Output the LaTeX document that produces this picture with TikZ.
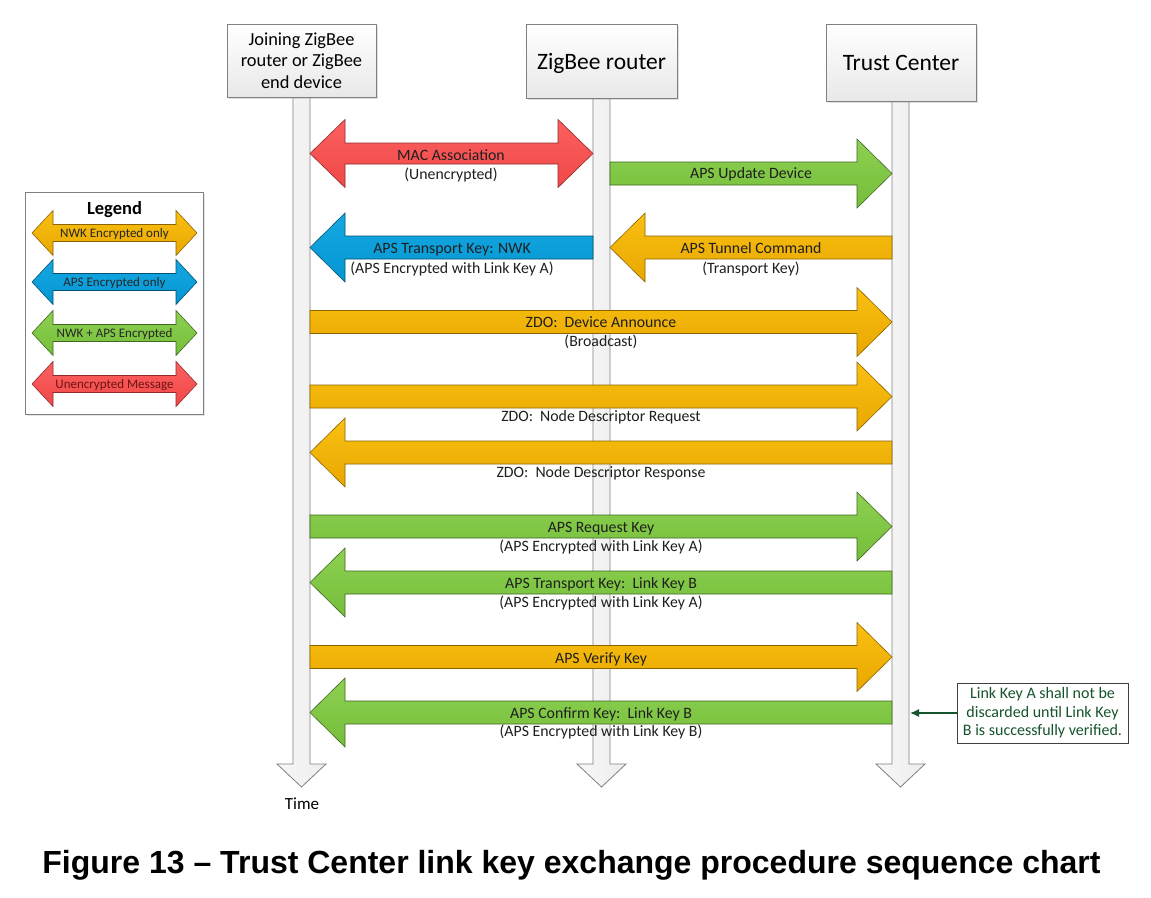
\documentclass[tikz,border=0pt]{standalone}
\usepackage{fontspec}
\setmainfont{Carlito}
\newfontfamily\titlefont{Liberation Sans}
\usetikzlibrary{shadows,arrows.meta}
\definecolor{orT}{RGB}{250,192,18}
\definecolor{orB}{RGB}{232,167,0}
\definecolor{grT}{RGB}{142,208,82}
\definecolor{grB}{RGB}{116,190,58}
\definecolor{blT}{RGB}{20,168,226}
\definecolor{blB}{RGB}{5,150,210}
\definecolor{rdT}{RGB}{252,96,96}
\definecolor{rdB}{RGB}{240,72,72}
\definecolor{notegreen}{RGB}{22,84,44}
\definecolor{darkred}{RGB}{110,20,20}
\newcommand\RArr[4]{% style, x start, x tip, y centre
  \path[#1] (#2,#4-11.5) -- (#3-35,#4-11.5) -- (#3-35,#4-34.5) -- (#3,#4)
    -- (#3-35,#4+34.5) -- (#3-35,#4+11.5) -- (#2,#4+11.5) -- cycle;}
\newcommand\LArr[4]{% style, x tip, x end, y centre
  \path[#1] (#3,#4-11.5) -- (#2+35,#4-11.5) -- (#2+35,#4-34.5) -- (#2,#4)
    -- (#2+35,#4+34.5) -- (#2+35,#4+11.5) -- (#3,#4+11.5) -- cycle;}
\newcommand\DArr[7]{% style, x1, x2, y, body half, head half, head length
  \path[#1] (#2,#4) -- (#2+#7,#4-#6) -- (#2+#7,#4-#5) -- (#3-#7,#4-#5)
    -- (#3-#7,#4-#6) -- (#3,#4) -- (#3-#7,#4+#6) -- (#3-#7,#4+#5)
    -- (#2+#7,#4+#5) -- (#2+#7,#4+#6) -- cycle;}
\newcommand\Life[2]{% x centre, y top
  \path[life] (#1-8.5,#2) -- (#1-8.5,764) -- (#1-24.5,764) -- (#1,787)
    -- (#1+24.5,764) -- (#1+8.5,764) -- (#1+8.5,#2) -- cycle;}
\tikzset{
  oarr/.style={draw=orB!60!black, line width=0.6, top color=orT, bottom color=orB},
  garr/.style={draw=grB!55!black, line width=0.6, top color=grT, bottom color=grB},
  barr/.style={draw=blB!55!black, line width=0.6, top color=blT, bottom color=blB},
  rarr/.style={draw=rdB!60!black, line width=0.6, top color=rdT, bottom color=rdB},
  life/.style={draw=black!50, line width=0.8, left color=black!3, right color=black!7},
  hdr/.style={draw=black!50, line width=0.8, top color=white, bottom color=black!9,
    align=center, inner sep=2pt,
    drop shadow={shadow xshift=2pt, shadow yshift=-2pt, opacity=0.25}},
  lbl/.style={font=\fontsize{15.8}{19}\selectfont, inner sep=0pt, anchor=base, text=black!88},
  leg/.style={font=\fontsize{13}{15}\selectfont, inner sep=0pt, anchor=base, text=black!85},
}
\begin{document}
\begin{tikzpicture}[x=1pt, y=-1pt]
\useasboundingbox (0,0) rectangle (1151,897);
\fill[white] (0,0) rectangle (1151,897);

% lifelines
\Life{301.5}{90}
\Life{601.5}{90}
\Life{900.5}{90}

% headers
\node[hdr, minimum width=149pt, minimum height=73pt, font=\fontsize{18.4}{21.5}\selectfont]
  (J) at (301.5,60.5) {Joining ZigBee\\router or ZigBee\\end device};
\node[hdr, minimum width=151pt, minimum height=74pt, text depth=0pt, font=\fontsize{23.5}{28}\selectfont]
  (R) at (601.5,61) {ZigBee router};
\node[hdr, minimum width=150pt, minimum height=77pt, font=\fontsize{23.5}{28}\selectfont]
  (T) at (901,62.5) {Trust Center};
\node[font=\fontsize{17}{20}\selectfont, inner sep=0pt, anchor=base] (time) at (302,809) {Time};

% messages
\DArr{rarr}{310}{593}{153.5}{10.5}{34}{35}
\node[lbl] (m1a) at (451,160) {MAC Association};
\node[lbl] (m1b) at (451,179) {(Unencrypted)};

\RArr{garr}{610}{892}{173.5}
\node[lbl] (m2) at (751,178.5) {APS Update Device};

\LArr{barr}{310}{593}{247.5}
\node[lbl] (m3a) at (452,253) {APS Transport Key: NWK};
\node[lbl] (m3b) at (452,273) {(APS Encrypted with Link Key A)};

\LArr{oarr}{610}{892}{247.5}
\node[lbl] (m4a) at (751,253) {APS Tunnel Command};
\node[lbl] (m4b) at (751,273) {(Transport Key)};

\RArr{oarr}{310}{892}{322}
\node[lbl] (m5a) at (601,327) {ZDO:\ \ Device Announce};
\node[lbl] (m5b) at (601,346) {(Broadcast)};

\RArr{oarr}{310}{892}{396.5}
\node[lbl] (m6) at (601,421) {ZDO:\ \ Node Descriptor Request};

\LArr{oarr}{310}{892}{452.5}
\node[lbl] (m7) at (601,477) {ZDO:\ \ Node Descriptor Response};

\RArr{garr}{310}{892}{526.5}
\node[lbl] (m8a) at (601,532) {APS Request Key};
\node[lbl] (m8b) at (601,551) {(APS Encrypted with Link Key A)};

\LArr{garr}{310}{892}{582.5}
\node[lbl] (m9a) at (601,588) {APS Transport Key:\ \ Link Key B};
\node[lbl] (m9b) at (601,607) {(APS Encrypted with Link Key A)};

\RArr{oarr}{310}{892}{657}
\node[lbl] (m10) at (601,663) {APS Verify Key};

\LArr{garr}{310}{892}{712.5}
\node[lbl] (m11a) at (601,718) {APS Confirm Key:\ \ Link Key B};
\node[lbl] (m11b) at (601,736) {(APS Encrypted with Link Key B)};

% note
\node[draw=black!75, line width=0.8, fill=white, minimum width=171pt, minimum height=60pt,
  inner sep=2pt, align=center, text=notegreen, font=\fontsize{16}{18.5}\selectfont]
  (N) at (1042.5,713) {Link Key A shall not be\\discarded until Link Key\\B is successfully verified.};
\coordinate (Tedge) at (910,713);
\draw[notegreen, line width=1.3, -{Latex[length=9pt,width=8pt]}] (N.west) -- (Tedge);

% legend
\node[draw=black!50, line width=0.8, fill=white, minimum width=178pt, minimum height=222pt,
  drop shadow={shadow xshift=1.5pt, shadow yshift=-1.5pt, opacity=0.2}] (L) at (114,303) {};
\node[font=\bfseries\fontsize{18.5}{21}\selectfont, inner sep=0pt, anchor=base] (Lt) at (114.5,214.5) {Legend};
\DArr{oarr}{32}{197}{233}{8.5}{22.5}{21}
\node[leg] (L1) at (114.5,237.5) {NWK Encrypted only};
\DArr{barr}{32}{197}{282}{8.5}{22.5}{21}
\node[leg] (L2) at (114.5,286.5) {APS Encrypted only};
\DArr{garr}{32}{197}{333}{8.5}{22.5}{21}
\node[leg] (L3) at (114.5,337) {NWK + APS Encrypted};
\DArr{rarr}{32}{197}{384}{8.5}{22.5}{21}
\node[leg, text=darkred] (L4) at (114.5,388.5) {Unencrypted Message};

% caption
\node[font=\titlefont\bfseries\fontsize{32}{38}\selectfont, inner sep=0pt, anchor=base]
  (cap) at (571.5,873) {Figure 13 – Trust Center link key exchange procedure sequence chart};
\end{tikzpicture}
\end{document}
